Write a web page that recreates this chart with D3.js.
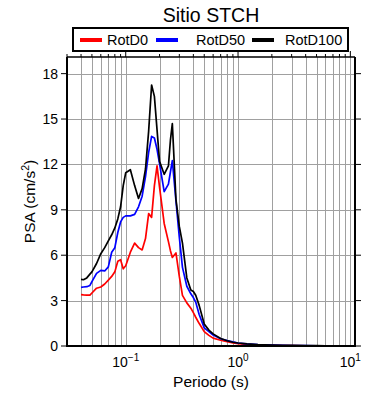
<!DOCTYPE html>
<head>
  <meta charset="utf-8">
  <script src="https://d3js.org/d3.v7.min.js"></script>
  <style>
    body { margin:0; background:#fff; }
    text { font-family: "Liberation Sans", Arial, Helvetica, sans-serif; fill:#000; }
  </style>
</head>
<body>
<script>
// periodos (s) y PSA (cm/s2)
var periods = [0.04,0.042,0.045,0.048,0.05,0.055,0.06,0.065,0.07,0.075,0.08,0.085,0.09,0.095,
  0.1,0.11,0.12,0.13,0.14,0.15,0.16,0.17,0.18,0.19,0.2,
  0.22,0.24,0.25,0.26,0.28,0.3,
  0.32,0.35,0.38,0.4,0.42,0.45,0.5,
  0.55,0.6,0.7,0.8,0.9,1.0,
  1.2,1.5,2.0,2.5,3.0,4.0,5.0,6.0,7.5,10.0];

var rotD0 = [3.4,3.38,3.36,3.36,3.5,3.82,3.9,4.1,4.35,4.6,4.9,5.6,5.7,5.1,
  5.3,6.2,6.8,6.5,6.35,7.1,8.75,8.5,10.6,11.9,10.5,
  8.1,6.9,6.3,5.85,6.15,4.6,
  3.35,2.85,2.5,2.2,1.9,1.5,0.95,
  0.7,0.52,0.38,0.28,0.2,0.15,
  0.1,0.07,0.04,0.03,0.02,0.015,0.012,0.01,0.008,0.006];

var rotD50 = [3.87,3.9,3.92,4.0,4.25,4.8,5.0,4.96,5.23,6.2,6.5,7.5,8.2,8.5,
  8.6,8.6,8.7,9.2,9.9,11.2,12.8,13.85,13.75,13.0,12.05,
  10.2,10.7,11.5,12.25,9.6,7.2,
  5.2,3.95,3.45,3.2,2.9,2.1,1.2,
  0.95,0.72,0.48,0.36,0.27,0.2,
  0.14,0.09,0.055,0.04,0.03,0.022,0.018,0.014,0.011,0.009];

var rotD100 = [4.4,4.38,4.5,4.75,4.9,5.45,6.1,6.5,6.95,7.35,7.8,8.4,9.2,10.6,
  11.45,11.65,10.6,9.75,10.4,11.7,14.2,17.25,16.5,14.3,12.2,
  11.35,11.9,13.6,14.7,9.7,7.9,
  6.8,4.5,3.7,3.6,3.35,2.7,1.45,
  1.05,0.8,0.5,0.35,0.25,0.2,
  0.14,0.09,0.06,0.04,0.035,0.025,0.02,0.015,0.012,0.01];

var yTicks = [0,3,6,9,12,15,18];
var xDecades = [-1,0,1];
var names = ["RotD0","RotD50","RotD100"];
var colors = ["#ff0000","#0000ff","#000000"];

var width = 390, height = 400;
var pL = 67, pR = 355, pT = 57, pB = 346;

var svg = d3.select("body").append("svg")
  .attr("width", width).attr("height", height);

var x = d3.scaleLog().domain([0.03, 11]).range([pL, pR]);
var y = d3.scaleLinear().domain([0, 19.1]).range([pB, pT]);

// grid
var minor = [];
[-2,-1,0,1].forEach(function(e){
  for (var k = 1; k <= 9; k++) {
    var v = k * Math.pow(10, e);
    if (v >= 0.03 && v <= 11) minor.push(v);
  }
});

svg.append("g").selectAll("line").data(minor).enter().append("line")
  .attr("x1", function(d){ return Math.round(x(d)) + 0.5; })
  .attr("x2", function(d){ return Math.round(x(d)) + 0.5; })
  .attr("y1", pT).attr("y2", pB)
  .attr("stroke", "#a0a0a0").attr("stroke-width", 1);

svg.append("g").selectAll("line").data(yTicks).enter().append("line")
  .attr("x1", pL).attr("x2", pR)
  .attr("y1", function(d){ return Math.round(y(d)) + 0.5; })
  .attr("y2", function(d){ return Math.round(y(d)) + 0.5; })
  .attr("stroke", "#a0a0a0").attr("stroke-width", 1);

// curves
svg.append("clipPath").attr("id", "clip").append("rect")
  .attr("x", pL).attr("y", pT).attr("width", pR - pL).attr("height", pB - pT);

var line = d3.line()
  .x(function(d, i){ return x(periods[i]); })
  .y(function(d){ return y(d); });

[rotD0, rotD50, rotD100].forEach(function(s, i){
  svg.append("path").datum(s)
    .attr("clip-path", "url(#clip)")
    .attr("d", line)
    .attr("fill", "none")
    .attr("stroke", colors[i])
    .attr("stroke-width", 1.7)
    .attr("stroke-linejoin", "round");
});

// frame
svg.append("line").attr("x1", pL).attr("x2", pR).attr("y1", pT).attr("y2", pT)
  .attr("stroke", "#000").attr("stroke-width", 1.3);
svg.append("line").attr("x1", pL).attr("x2", pR).attr("y1", pB).attr("y2", pB)
  .attr("stroke", "#000").attr("stroke-width", 2);
svg.append("line").attr("x1", pL).attr("x2", pL).attr("y1", pT).attr("y2", pB + 1)
  .attr("stroke", "#000").attr("stroke-width", 2);
svg.append("line").attr("x1", pR).attr("x2", pR).attr("y1", pT).attr("y2", pB + 1)
  .attr("stroke", "#000").attr("stroke-width", 2);

// y ticks left and right
svg.append("g").selectAll("line").data(yTicks).enter().append("line")
  .attr("x1", pL - 6).attr("x2", pL)
  .attr("y1", function(d){ return y(d); }).attr("y2", function(d){ return y(d); })
  .attr("stroke", "#000").attr("stroke-width", 1);
svg.append("g").selectAll("line").data(yTicks).enter().append("line")
  .attr("x1", pR).attr("x2", pR + 6)
  .attr("y1", function(d){ return y(d); }).attr("y2", function(d){ return y(d); })
  .attr("stroke", "#000").attr("stroke-width", 1);

svg.append("g").selectAll("text").data(yTicks).enter().append("text")
  .attr("x", pL - 9).attr("y", function(d){ return y(d) + 5; })
  .attr("text-anchor", "end").attr("font-size", 14)
  .text(function(d){ return d; });

// top ticks
svg.append("g").selectAll("line").data(minor).enter().append("line")
  .attr("x1", function(d){ return x(d); }).attr("x2", function(d){ return x(d); })
  .attr("y1", pT).attr("y2", function(d){
    var l = Math.log10(d);
    return Math.abs(l - Math.round(l)) < 1e-9 ? pT - 6 : pT - 3;
  })
  .attr("stroke", "#000").attr("stroke-width", 1);

// x labels 10^n
var xl = svg.append("g").selectAll("text").data(xDecades).enter().append("text")
  .attr("x", function(d){ return x(Math.pow(10, d)); })
  .attr("y", 367).attr("text-anchor", "middle").attr("font-size", 14);
xl.append("tspan").text("10");
xl.append("tspan").attr("dy", -6).attr("font-size", 10)
  .text(function(d){ return d < 0 ? "\u2212" + (-d) : d; });

// axis titles
svg.append("text").attr("x", (pL + pR) / 2).attr("y", 387)
  .attr("text-anchor", "middle").attr("font-size", 15.5).text("Periodo (s)");

var yl = svg.append("text")
  .attr("transform", "translate(35," + ((pT + pB) / 2) + ") rotate(-90)")
  .attr("text-anchor", "middle").attr("font-size", 15.5);
yl.append("tspan").text("PSA (cm/s");
yl.append("tspan").attr("dy", -6).attr("font-size", 10.5).text("2");
yl.append("tspan").attr("dy", 6).text(")");

// title
svg.append("text").attr("x", 211).attr("y", 22)
  .attr("text-anchor", "middle").attr("font-size", 19.5).text("Sitio STCH");

// legend
svg.append("rect").attr("x", 73).attr("y", 28).attr("width", 275).attr("height", 23)
  .attr("fill", "#fff").attr("stroke", "#000").attr("stroke-width", 2);

var legX = [80, 156, 252];
var leg = svg.append("g").selectAll("g").data(names).enter().append("g");
leg.append("line")
  .attr("x1", function(d, i){ return legX[i]; })
  .attr("x2", function(d, i){ return legX[i] + 22; })
  .attr("y1", 40).attr("y2", 40)
  .attr("stroke", function(d, i){ return colors[i]; }).attr("stroke-width", 4);
leg.append("text")
  .attr("x", function(d, i){ return [107, 196, 285][i]; })
  .attr("y", 45).attr("font-size", 14.5)
  .text(function(d){ return d; });
</script>
</body>
